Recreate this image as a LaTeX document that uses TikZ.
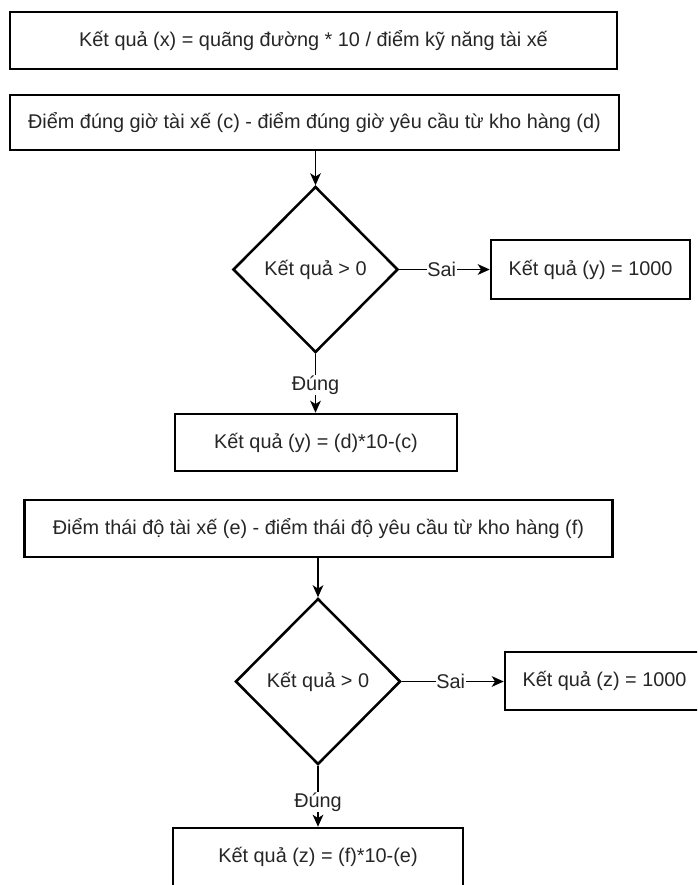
\documentclass[tikz,border=0pt]{standalone}
\usepackage{fontspec}
\setmainfont{Liberation Sans}
\usetikzlibrary{shapes.geometric,arrows.meta}
\def\u{0.75pt}
\newcommand{\fs}{\fontsize{14.9}{17}\selectfont}
\tikzset{
  box/.style={draw, line width=1.9pt, rectangle, inner sep=0pt, font=\fs, text=black!85},
  dec/.style={draw, diamond, line width=1.9pt, inner sep=0pt, font=\fs, text=black!85,
    minimum width=165*\u, minimum height=166*\u},
  arr/.style={-{Stealth[length=9pt,width=8pt,inset=2.5pt]}, line width=1pt},
  lbl/.style={fill=white, inner sep=0.5pt, font=\fs, text=black!85}
}
\begin{document}
\begin{tikzpicture}[x=0.75pt,y=-0.75pt]
\useasboundingbox (0,0) rectangle (697,885);
\clip (0,0) rectangle (697,885);
\fill[white] (0,0) rectangle (697,885);
\node[box, minimum width=607*\u, minimum height=57*\u] (b1) at (313.5,40.5) {Kết quả (x) = quãng đường * 10 / điểm kỹ năng tài xế};
\node[box, minimum width=609*\u, minimum height=55*\u] (b2) at (314.5,122.5) {Điểm đúng giờ tài xế (c) - điểm đúng giờ yêu cầu từ kho hàng (d)};
\node[dec] (d1) at (315.5,269.5) {Kết quả > 0};
\node[box, minimum width=199*\u, minimum height=59*\u] (y1) at (590.5,269.5) {Kết quả (y) = 1000};
\node[box, minimum width=282*\u, minimum height=57*\u] (y2) at (316,442.5) {Kết quả (y) = (d)*10-(c)};
\node[box, minimum width=588*\u, minimum height=57*\u] (b3) at (318.5,528.5) {Điểm thái độ tài xế (e) - điểm thái độ yêu cầu từ kho hàng (f)};
\node[dec] (d2) at (318,681.5) {Kết quả > 0};
\node[box, minimum width=199*\u, minimum height=58*\u] (z1) at (604.5,681) {Kết quả (z) = 1000};
\node[box, minimum width=290*\u, minimum height=58*\u] (z2) at (318,857) {Kết quả (z) = (f)*10-(e)};
\draw[arr] (d1.north |- b2.south) -- (d1.north);
\draw[arr] (d1.east) -- node[lbl, pos=0.47] {Sai} (y1.west);
\draw[arr] (d1.south) -- node[lbl, pos=0.53] {Đúng} (d1.south |- y2.north);
\draw[arr] (d2.north |- b3.south) -- (d2.north);
\draw[arr] (d2.east) -- node[lbl, pos=0.48] {Sai} (d2.east -| z1.west);
\draw[arr] (d2.south) -- node[lbl, pos=0.6] {Đúng} (d2.south |- z2.north);
\end{tikzpicture}
\end{document}
